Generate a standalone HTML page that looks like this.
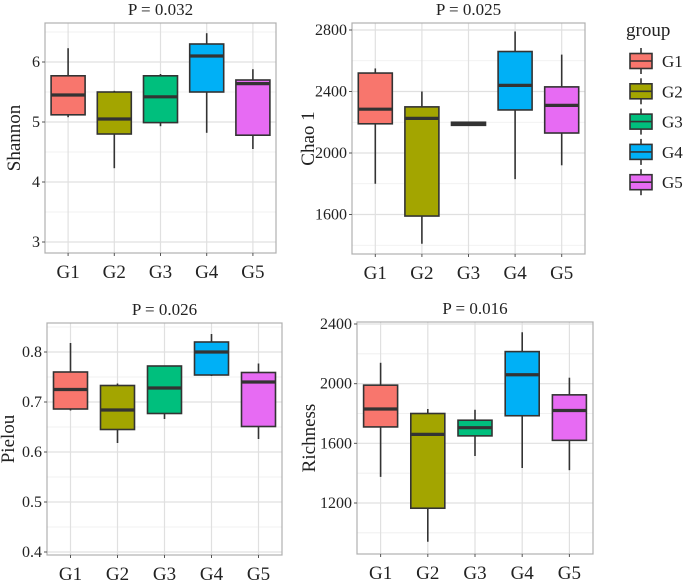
<!DOCTYPE html>
<html><head><meta charset="utf-8"><style>
body{margin:0;background:#fff;}
svg, svg text{font-family:"Liberation Serif","Times New Roman",serif !important;}
svg text{fill:#222;}
</style></head><body>
<svg id="c" width="685" height="581" font-family="Liberation Serif, serif" xmlns="http://www.w3.org/2000/svg"></svg>
<script>
const groups=["G1","G2","G3","G4","G5"];
const colors=["#F8766D","#A3A500","#00BF7D","#00B0F6","#E76BF3"];
// [lowWhisker, q1, median, q3, highWhisker]
const shannonVals=[[5.08,5.12,5.45,5.77,6.23],[4.23,4.80,5.05,5.50,5.52],[4.93,4.99,5.42,5.77,5.80],[4.82,5.50,6.10,6.30,6.48],[4.55,4.78,5.64,5.70,5.88]];
const chaoVals=[[1800,2190,2285,2520,2550],[1410,1590,2225,2300,2400],[2180,2180,2190,2200,2200],[1830,2280,2440,2660,2790],[1920,2130,2310,2430,2640]];
const pielouVals=[[0.683,0.686,0.725,0.760,0.818],[0.618,0.645,0.684,0.733,0.737],[0.666,0.677,0.728,0.772,0.772],[0.752,0.754,0.800,0.820,0.836],[0.626,0.651,0.740,0.759,0.777]];
const richVals=[[1375,1710,1830,1990,2140],[940,1165,1660,1800,1830],[1515,1650,1705,1755,1825],[1435,1785,2060,2215,2345],[1420,1620,1820,1925,2040]];
const shannonTicks=[3,4,5,6];
const chaoTicks=[1600,2000,2400,2800];
const pielouTicks=[0.4,0.5,0.6,0.7,0.8];
const richTicks=[1200,1600,2000,2400];
const titles=["P = 0.032","P = 0.025","P = 0.026","P = 0.016"];
const ylabels=["Shannon","Chao 1","Pielou","Richness"];

const svg=document.getElementById('c');
const NS="http://www.w3.org/2000/svg";
function mk(t,a,p){const e=document.createElementNS(NS,t);for(const k in a)e.setAttribute(k,a[k]);if(t==='text')e.setAttribute('font-family','Liberation Serif, serif');(p||svg).appendChild(e);return e;}

function panel(o){
  const g=mk('g',{});
  
  
  const y=v=>o.y0+(v-o.v0)*(o.y1-o.y0)/(o.v1-o.v0);
  const step=o.xw/5;
  const x=i=>o.x0+step*(i+0.5);
  const t=o.ticks, d=t[1]-t[0];
  for(let v=t[0]-d;v<=t[t.length-1]+d;v+=d/2){
    const py=y(v); if(py<o.top||py>o.bot)continue;
    const isMajor=t.some(tv=>Math.abs(tv-v)<d*1e-3);
    mk('line',{x1:o.x0,x2:o.x0+o.xw,y1:py,y2:py,stroke:isMajor?'#e0e0e0':'#ededed','stroke-width':isMajor?1.2:0.8},g);
  }
  groups.forEach((_,i)=>mk('line',{x1:x(i),x2:x(i),y1:o.top,y2:o.bot,stroke:'#e0e0e0','stroke-width':1.2},g));
  const border=mk('rect',{x:o.x0,y:o.top,width:o.xw,height:o.bot-o.top,fill:'none',stroke:'#b0b0b0','stroke-width':1.2},g);
  
  
  t.forEach(v=>{
    const tk=mk('text',{x:o.x0-5,y:y(v)+5,'text-anchor':'end','font-size':16},g);
    tk.textContent=String(v);
    
    
    mk('line',{x1:o.x0-3,x2:o.x0,y1:y(v),y2:y(v),stroke:'#555'},g);
  });
  groups.forEach((gn,i)=>{
    const lb=mk('text',{x:x(i),y:o.bot+25,'text-anchor':'middle','font-size':19},g);
    lb.textContent=gn;
    
    
    mk('line',{x1:x(i),x2:x(i),y1:o.bot,y2:o.bot+3,stroke:'#555'},g);
  });
  o.vals.forEach((b,i)=>{
    const bg=mk('g',{},g);
    
    
    const cx=x(i), hw=17;
    mk('line',{x1:cx,x2:cx,y1:y(b[0]),y2:y(b[4]),stroke:'#333','stroke-width':1.6},bg);
    mk('rect',{x:cx-hw,y:y(b[3]),width:hw*2,height:Math.max(1,y(b[1])-y(b[3])),fill:colors[i],stroke:'#333','stroke-width':1.6},bg);
    mk('line',{x1:cx-hw,x2:cx+hw,y1:y(b[2]),y2:y(b[2]),stroke:'#333','stroke-width':3.2},bg);
  });
  const tt=mk('text',{x:o.x0+o.xw/2,y:o.top-8,'text-anchor':'middle','font-size':17},g);
  tt.textContent=o.title;
  
  
  const cy=(o.top+o.bot)/2;
  const yl=mk('text',{x:o.ylx,y:cy,'text-anchor':'middle','font-size':19,transform:`rotate(-90 ${o.ylx} ${cy})`},g);
  yl.textContent=o.ylabel;
  
  
}
panel({name:'shannon',x0:45,xw:231,top:23,bot:253,v0:6,y0:62,v1:5,y1:122,ticks:shannonTicks,vals:shannonVals,title:titles[0],ylabel:ylabels[0],ylx:20});
panel({name:'chao1',x0:352,xw:233,top:23,bot:254,v0:2800,y0:30,v1:2000,y1:153,ticks:chaoTicks,vals:chaoVals,title:titles[1],ylabel:ylabels[1],ylx:314});
panel({name:'pielou',x0:47,xw:235,top:323,bot:555,v0:0.8,y0:352,v1:0.4,y1:552,ticks:pielouTicks,vals:pielouVals,title:titles[2],ylabel:ylabels[2],ylx:14});
panel({name:'richness',x0:357,xw:236,top:322,bot:554,v0:2400,y0:324,v1:1200,y1:503,ticks:richTicks,vals:richVals,title:titles[3],ylabel:ylabels[3],ylx:315});

const lg=mk('g',{});


const lt=mk('text',{x:626,y:36,'font-size':19},lg);
lt.textContent='group';


groups.forEach((gn,i)=>{
  const e=mk('g',{},lg);
  
  
  const cy=61+i*30.3;
  mk('line',{x1:641,x2:641,y1:cy-13,y2:cy+13,stroke:'#333','stroke-width':1.6},e);
  mk('rect',{x:630,y:cy-7.5,width:22,height:15,fill:colors[i],stroke:'#333','stroke-width':1.6},e);
  mk('line',{x1:630,x2:652,y1:cy,y2:cy,stroke:'#333','stroke-width':1.6},e);
  const tx=mk('text',{x:662,y:cy+6,'font-size':17},e);
  tx.textContent=gn;
});
</script>
</body></html>
